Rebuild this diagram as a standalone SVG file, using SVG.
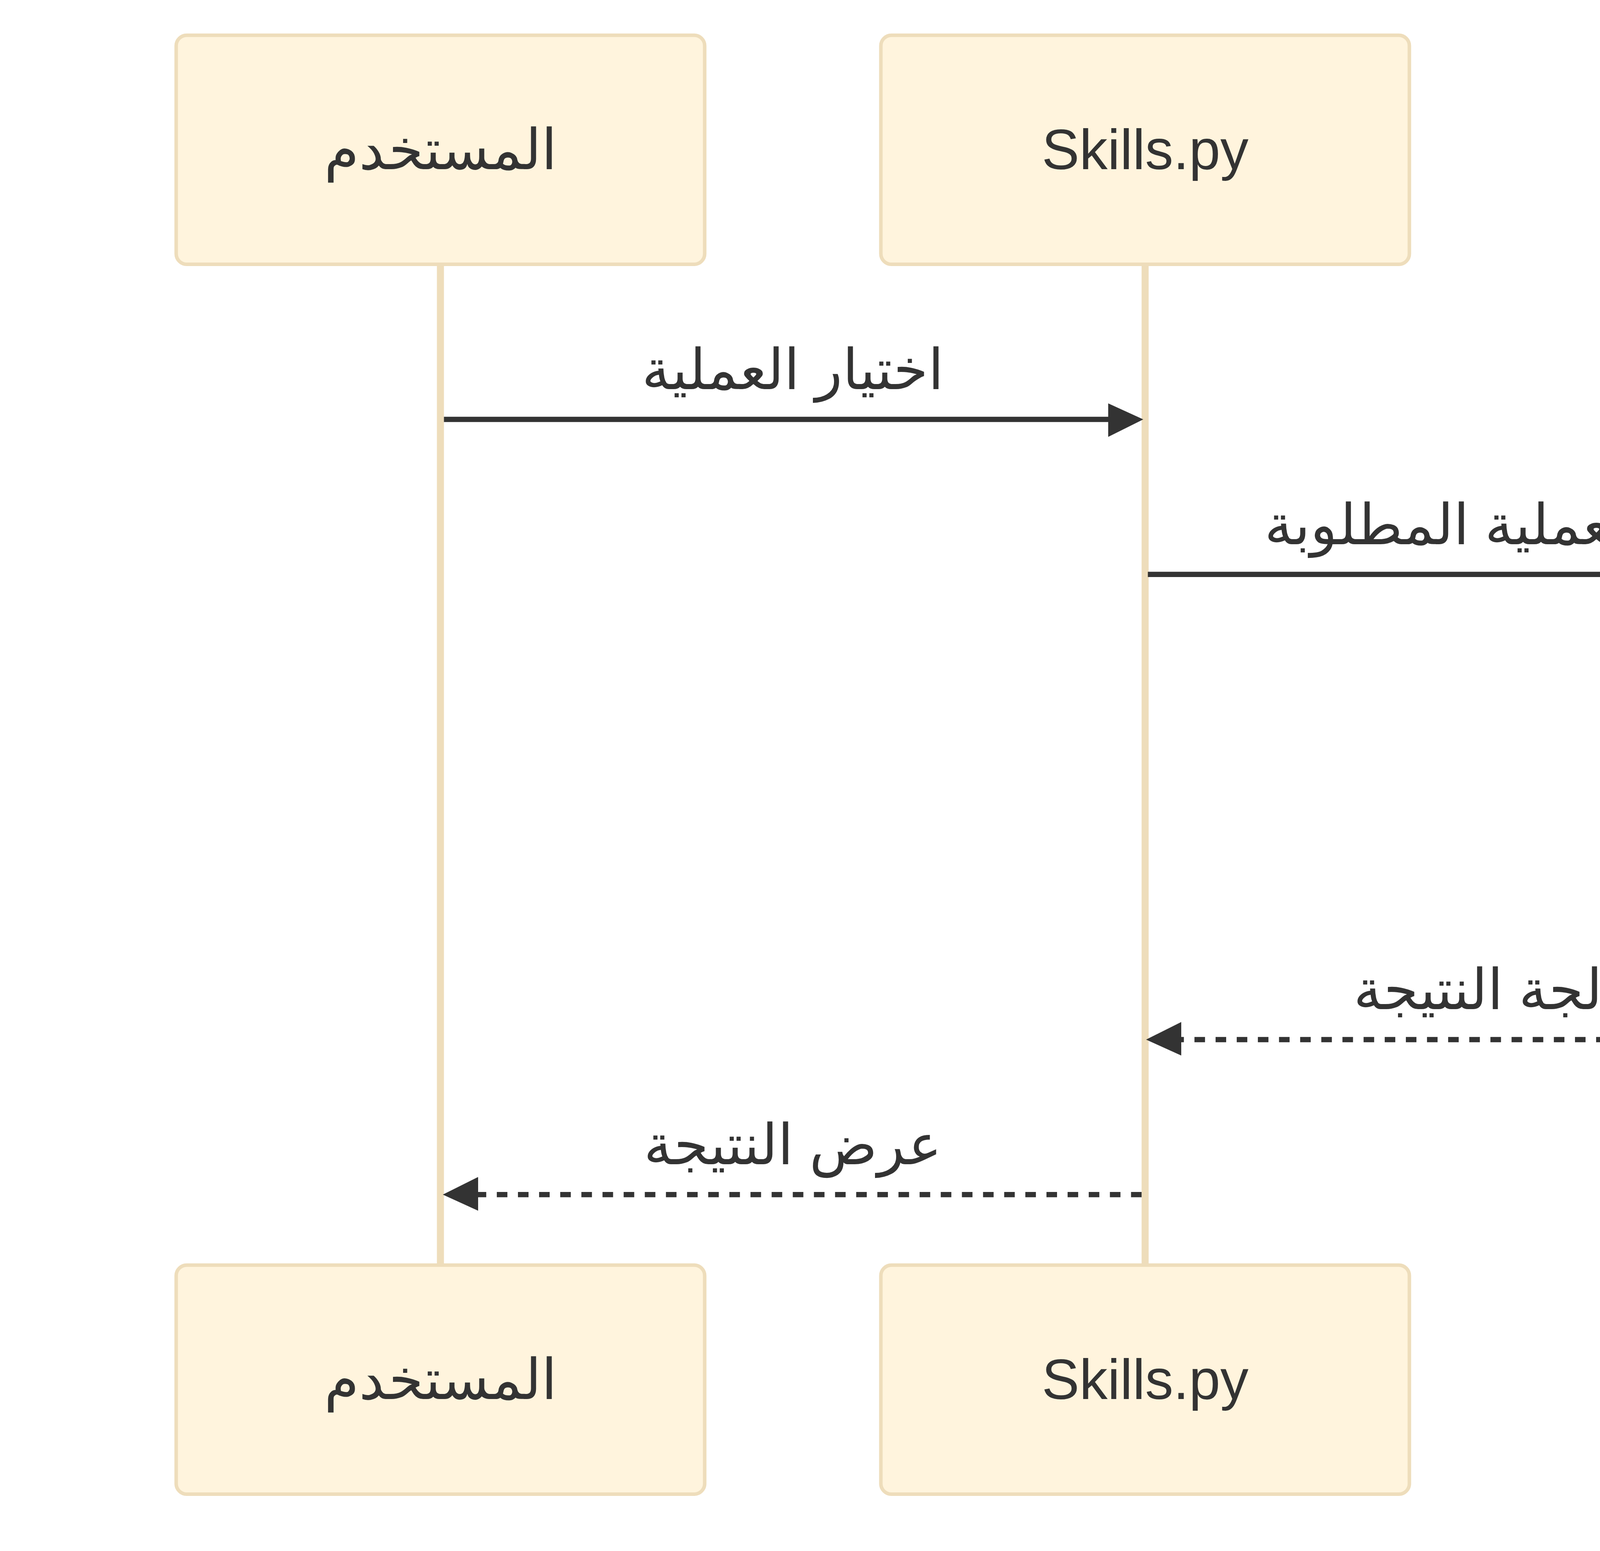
<svg xmlns="http://www.w3.org/2000/svg" width="7840" height="3970" viewBox="0 0 7840 3970">
  <style>
    .actor { fill: #FFF4DD; stroke: #EEDDBB; stroke-width: 9.02; }
    .lifeline { stroke: #EEDDBB; stroke-width: 18.04; }
    .msg { stroke: #333333; stroke-width: 13.53; fill: none; }
    .dotted { stroke-dasharray: 27.06, 27.06; }
    text { font-family: "Liberation Sans", Arial, sans-serif; font-size: 144.3px; fill: #333333; text-anchor: middle; }
    .actor-t { dominant-baseline: central; }
  </style>
  <defs>
    <marker id="arrowhead" viewBox="0 0 12 12" refX="7.9" refY="5" markerUnits="userSpaceOnUse" markerWidth="108.24" markerHeight="108.24" orient="auto">
      <path d="M -1 0 L 10 5 L 0 10 z" fill="#333333" stroke="none"/>
    </marker>
  </defs>
  <g id="lifelines">
    <line class="lifeline" x1="1127.5" y1="676.5" x2="1127.5" y2="3238.2"/>
    <line class="lifeline" x1="2931.5" y1="676.5" x2="2931.5" y2="3238.2"/>
    <line class="lifeline" x1="4825.7" y1="676.5" x2="4825.7" y2="3238.2"/>
    <line class="lifeline" x1="6629.7" y1="676.5" x2="6629.7" y2="3238.2"/>
  </g>
  <g id="actor-user-top">
    <rect class="actor" x="451" y="90.2" width="1353" height="586.3" rx="27" ry="27"/>
    <text class="actor-t" x="1127.5" y="383.4">المستخدم</text>
  </g>
  <g id="actor-skillspy-top">
    <rect class="actor" x="2255" y="90.2" width="1353" height="586.3" rx="27" ry="27"/>
    <text class="actor-t" x="2931.5" y="383.4">Skills.py</text>
  </g>
  <g id="actor-manager-top">
    <rect class="actor" x="4149.2" y="90.2" width="1353" height="586.3" rx="27" ry="27"/>
    <text class="actor-t" x="4825.7" y="383.4">SkillsManager</text>
  </g>
  <g id="actor-db-top">
    <rect class="actor" x="5953.2" y="90.2" width="1353" height="586.3" rx="27" ry="27"/>
    <text class="actor-t" x="6629.7" y="383.4">Skills.db</text>
  </g>
  <g id="actor-user-bottom">
    <rect class="actor" x="451" y="3238.2" width="1353" height="586.3" rx="27" ry="27"/>
    <text class="actor-t" x="1127.5" y="3531.3">المستخدم</text>
  </g>
  <g id="actor-skillspy-bottom">
    <rect class="actor" x="2255" y="3238.2" width="1353" height="586.3" rx="27" ry="27"/>
    <text class="actor-t" x="2931.5" y="3531.3">Skills.py</text>
  </g>
  <g id="actor-manager-bottom">
    <rect class="actor" x="4149.2" y="3238.2" width="1353" height="586.3" rx="27" ry="27"/>
    <text class="actor-t" x="4825.7" y="3531.3">SkillsManager</text>
  </g>
  <g id="actor-db-bottom">
    <rect class="actor" x="5953.2" y="3238.2" width="1353" height="586.3" rx="27" ry="27"/>
    <text class="actor-t" x="6629.7" y="3531.3">Skills.db</text>
  </g>
  <g id="connectors">
    <line class="msg" x1="1136.5" y1="1073.4" x2="2907.9" y2="1073.4" marker-end="url(#arrowhead)"/>
    <text x="2029.5" y="995.8">اختيار العملية</text>
    <line class="msg" x1="2938.5" y1="1470.3" x2="4802" y2="1470.3" marker-end="url(#arrowhead)"/>
    <text x="3878.6" y="1392.7">تنفيذ العملية المطلوبة</text>
    <line class="msg" x1="4834.7" y1="1867.2" x2="6605.6" y2="1867.2" marker-end="url(#arrowhead)"/>
    <text x="5727.6" y="1789.6">استعلام SQL</text>
    <line class="msg dotted" x1="6620.7" y1="2264" x2="4849.1" y2="2264" marker-end="url(#arrowhead)"/>
    <text x="5727.6" y="2186.4">نتيجة الاستعلام</text>
    <line class="msg dotted" x1="4816.7" y1="2660.9" x2="2952.9" y2="2660.9" marker-end="url(#arrowhead)"/>
    <text x="3878.6" y="2583.3">معالجة النتيجة</text>
    <line class="msg dotted" x1="2922.5" y1="3057.8" x2="1152.5" y2="3057.8" marker-end="url(#arrowhead)"/>
    <text x="2029.5" y="2980.2">عرض النتيجة</text>
  </g>
</svg>
